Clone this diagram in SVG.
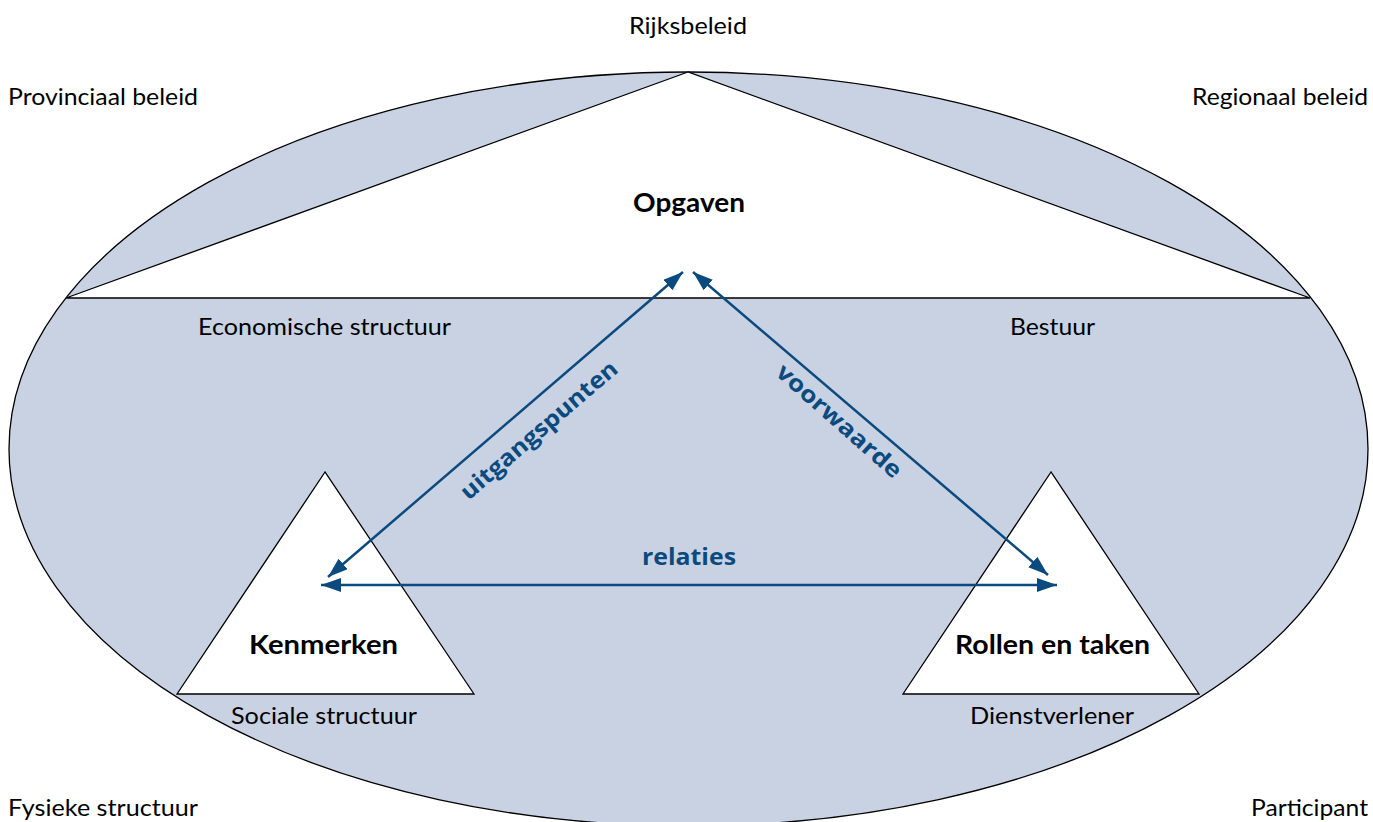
<svg xmlns="http://www.w3.org/2000/svg" width="1373" height="822" viewBox="0 0 1373 822">
<defs>
<style>
.shape{stroke:#000;stroke-width:1.3}
.t{font-family:Lato,"Open Sans","Liberation Sans",sans-serif;font-size:23px;fill:#000}
.b{font-family:Lato,"Open Sans","Liberation Sans",sans-serif;font-size:26px;font-weight:bold;fill:#000}
.lab{font-family:"Open Sans",Lato,"Liberation Sans",sans-serif;font-size:23px;font-weight:bold;fill:#0b4a7f}
.con{stroke:#0b4a7f;stroke-width:2.5;fill:none}
</style>
<marker id="a" viewBox="0 0 20 14" refX="20" refY="7" markerWidth="20" markerHeight="14" orient="auto-start-reverse" markerUnits="userSpaceOnUse">
<path d="M0,0 L20,7 L0,14 Z" fill="#0b4a7f"/>
</marker>
</defs>
<rect width="1373" height="822" fill="#fff"/>
<g id="ellipse">
<ellipse class="shape" cx="688.5" cy="449" rx="679.5" ry="377" fill="#c8d2e3"/>
</g>
<g id="opgaven">
<polygon class="shape" points="688,72 66,298 1310,298" fill="#fff"/>
<text class="b" x="689" y="212" text-anchor="middle" textLength="112" lengthAdjust="spacingAndGlyphs">Opgaven</text>
</g>
<g id="kenmerken">
<polygon class="shape" points="325,472 177,694 474,694" fill="#fff"/>
<text class="b" x="323.5" y="654" text-anchor="middle" textLength="149" lengthAdjust="spacingAndGlyphs">Kenmerken</text>
</g>
<g id="rollen">
<polygon class="shape" points="1051,472 903,694 1199,694" fill="#fff"/>
<text class="b" x="1052.5" y="654" text-anchor="middle" textLength="195" lengthAdjust="spacingAndGlyphs">Rollen en taken</text>
</g>
<g id="connectors">
<line class="con" x1="328" y1="577" x2="683" y2="272" marker-start="url(#a)" marker-end="url(#a)"/>
<line class="con" x1="693" y1="272" x2="1048" y2="575" marker-start="url(#a)" marker-end="url(#a)"/>
<line class="con" x1="321" y1="585" x2="1057" y2="585" marker-start="url(#a)" marker-end="url(#a)"/>
<text class="lab" transform="translate(544,436) rotate(-40.7)" text-anchor="middle" textLength="199" lengthAdjust="spacingAndGlyphs">uitgangspunten</text>
<text class="lab" transform="translate(834,427) rotate(41.5)" text-anchor="middle" textLength="159" lengthAdjust="spacingAndGlyphs">voorwaarde</text>
<text class="lab" x="689" y="565" text-anchor="middle" textLength="94" lengthAdjust="spacingAndGlyphs">relaties</text>
</g>
<g id="labels">
<text class="t" x="688" y="34" text-anchor="middle" textLength="118" lengthAdjust="spacingAndGlyphs">Rijksbeleid</text>
<text class="t" x="8" y="105" textLength="190" lengthAdjust="spacingAndGlyphs">Provinciaal beleid</text>
<text class="t" x="1368" y="105" text-anchor="end" textLength="176" lengthAdjust="spacingAndGlyphs">Regionaal beleid</text>
<text class="t" x="324.5" y="335" text-anchor="middle" textLength="253" lengthAdjust="spacingAndGlyphs">Economische structuur</text>
<text class="t" x="1052.5" y="335" text-anchor="middle" textLength="85" lengthAdjust="spacingAndGlyphs">Bestuur</text>
<text class="t" x="324" y="724" text-anchor="middle" textLength="186" lengthAdjust="spacingAndGlyphs">Sociale structuur</text>
<text class="t" x="1052" y="724" text-anchor="middle" textLength="164" lengthAdjust="spacingAndGlyphs">Dienstverlener</text>
<text class="t" x="8" y="816" textLength="190" lengthAdjust="spacingAndGlyphs">Fysieke structuur</text>
<text class="t" x="1368" y="816" text-anchor="end" textLength="117" lengthAdjust="spacingAndGlyphs">Participant</text>
</g>
</svg>
